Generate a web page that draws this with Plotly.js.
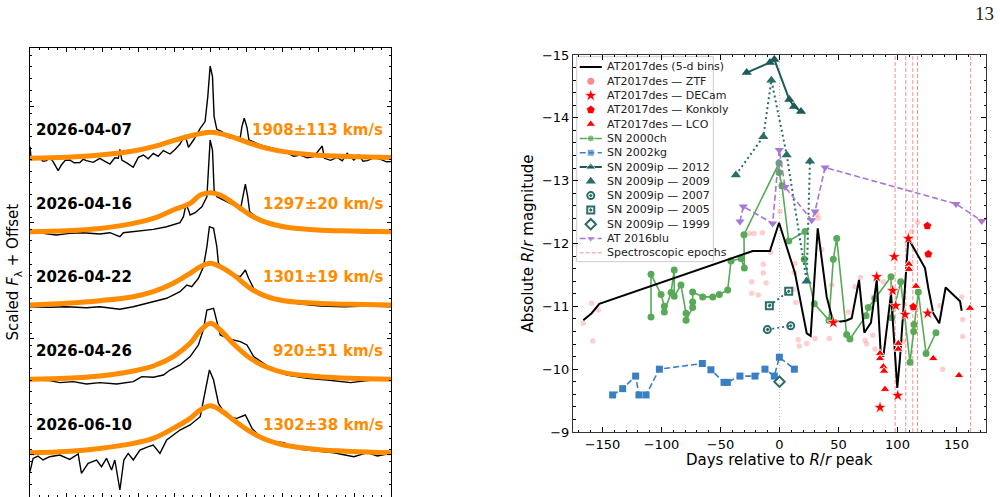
<!DOCTYPE html>
<html>
<head>
<meta charset="utf-8">
<script src="https://cdn.plot.ly/plotly-3.0.1.min.js"></script>
<style>
  html, body { margin: 0; padding: 0; background: #ffffff; }
  #chart { width: 1000px; height: 497px; }
</style>
</head>
<body>
<div id="chart"></div>
<script>
// ---------- Left panel: H-alpha spectra (velocity in 10^3 km/s, flux in scaled units) ----------
const specDates  = ['2026-04-07', '2026-04-16', '2026-04-22', '2026-04-26', '2026-06-10'];
const fwhmLabels = ['1908±113 km/s', '1297±20 km/s', '1301±19 km/s', '920±51 km/s', '1302±38 km/s'];
const specOffsets = [33.77, 26.43, 19.1, 11.67, 4.33];

const vel0407  = [-10.0, -9.93, -9.70, -9.46, -9.28, -9.09, -8.90, -8.72, -8.44, -8.26, -8.05, -7.80, -7.55, -7.24, -7.05, -6.87, -6.50, -6.13, -5.85, -5.57, -5.30, -5.11, -5.02, -4.91, -4.60, -4.28, -4.00, -3.72, -3.45, -3.17, -2.90, -2.61, -2.24, -1.95, -1.69, -1.41, -1.22, -0.94, -0.57, -0.30, -0.15, -0.02, 0.11, 0.20, 0.35, 0.63, 1.09, 1.65, 1.74, 1.87, 2.02, 2.13, 2.76, 3.10, 3.50, 3.85, 4.24, 4.60, 4.98, 5.35, 5.72, 6.19, 6.31, 6.65, 7.02, 7.30, 7.57, 7.94, 8.22, 8.45, 8.69, 9.05, 9.43, 9.75, 10.0];
const flux0407 = [1.17, -0.17, 0.1, 0, -0.3, -0.23, 0.05, -0.33, -1.23, -0.67, -0.2, -0.17, -0.45, -0.43, -0.1, -0.23, -0.4, 0, -0.3, -0.57, 0.05, 0, 0.9, -0.17, -0.5, -0.9, 0.1, 0.33, -0.05, 0.5, 0.2, 0.77, 0.43, 0.9, 1.43, 2.33, 1.1, 1.83, 3.0, 3.67, 6.17, 9.23, 8.17, 4.17, 2.9, 2.67, 2.0, 2.1, 3.17, 4.0, 3.1, 1.83, 1.33, 1.2, 1.0, 0.7, 0.57, 0.2, 0.33, 0.05, 0.17, 1.23, 0, -0.2, 0.1, -0.25, 0.5, -0.17, 0.33, -0.3, -0.23, 0.05, -0.1, -0.35, -0.33];

const vel0416  = [-10.0, -9.28, -8.54, -7.80, -7.06, -6.13, -5.57, -5.02, -4.83, -3.91, -3.17, -2.43, -1.69, -1.50, -1.35, -1.22, -1.13, -0.85, -0.48, -0.20, -0.11, -0.02, 0.11, 0.20, 0.35, 0.72, 1.28, 1.65, 1.80, 1.93, 2.06, 2.17, 2.76, 3.69, 4.61, 5.91, 7.39, 8.69, 10.0];
const flux0416 = [-0.1, -0.17, -0.33, -0.17, -0.1, -0.23, -0.1, -0.5, -0.1, 0.1, 0.23, 0.5, 0.9, 1.5, 2.77, 2.17, 1.67, 1.9, 2.5, 3.5, 6.83, 9.17, 8.17, 4.17, 3.5, 3.17, 2.67, 2.17, 3.5, 4.77, 3.5, 2.0, 1.17, 0.57, 0.23, 0.1, 0, -0.1, -0.03];

const vel0422  = [-10.0, -8.91, -8.0, -6.87, -6.13, -5.02, -4.28, -3.35, -2.43, -1.69, -1.31, -1.04, -0.67, -0.39, -0.20, -0.06, 0.17, 0.35, 0.44, 0.63, 1.28, 1.65, 1.93, 2.11, 2.39, 2.94, 3.87, 4.98, 6.09, 7.39, 8.69, 10.0];
const flux0422 = [-0.17, -0.23, -0.17, -0.27, -0.17, -0.43, -0.17, 0.23, 0.67, 1.33, 2.0, 1.83, 2.67, 3.83, 5.83, 7.83, 7.67, 5.83, 4.17, 3.83, 3.0, 2.83, 3.5, 2.67, 1.67, 1.0, 0.43, 0.1, -0.1, -0.17, -0.1, -0.17];

const vel0426  = [-10.0, -8.91, -8.35, -7.61, -6.87, -6.13, -5.20, -4.28, -3.81, -3.17, -2.61, -2.24, -1.69, -1.13, -0.67, -0.39, -0.20, 0.17, 0.31, 0.54, 1.09, 1.65, 2.02, 2.39, 2.94, 3.50, 4.24, 5.35, 6.46, 7.76, 8.69, 10.0];
const flux0426 = [-0.07, -0.13, -0.33, -0.23, -0.47, -0.33, -0.47, -0.23, 0.27, 0.2, 0.43, 0.93, 1.43, 2.27, 3.43, 5.0, 6.93, 7.1, 6.1, 4.43, 4.0, 3.77, 3.43, 2.27, 1.6, 0.93, 0.43, 0.1, -0.07, -0.33, -0.13, 0];

const vel0610  = [-10.0, -9.83, -9.56, -9.28, -8.91, -8.35, -7.80, -7.33, -7.15, -6.78, -6.31, -6.04, -5.76, -5.48, -5.30, -5.02, -4.80, -4.56, -4.28, -3.91, -3.44, -3.17, -2.80, -2.43, -1.69, -1.13, -0.57, -0.30, -0.06, 0.17, 0.44, 0.91, 1.46, 1.93, 2.30, 2.94, 4.06, 4.98, 6.09, 6.83, 7.94, 8.69, 9.24, 10.0];
const flux0610 = [-1.9, -0.57, -0.33, -0.73, -0.4, -0.23, -0.67, -0.13, -2.07, -1.07, -0.73, -1.4, -0.57, -1.73, -0.73, -3.73, -0.73, -0.07, -0.73, 0.27, 0.6, 0.77, -0.07, 1.27, 2.27, 2.77, 3.6, 6.27, 8.27, 7.27, 4.93, 3.6, 3.43, 3.77, 2.43, 1.27, 1.0, 0.33, 0.1, 0, -0.4, 0, -0.33, -0.07];

// Lorentzian profile fits, sampled on a shared velocity grid
const fitVel  = [-10, -7.98, -6.13, -4.28, -3.17, -2.06, -1.13, -0.57, 0, 0.54, 1.28, 2.20, 3.13, 4.06, 5.91, 7.76, 10];
const fit0407 = [0, 0.1, 0.33, 0.73, 1.17, 1.77, 2.23, 2.47, 2.6, 2.47, 2.1, 1.5, 1.0, 0.67, 0.3, 0.17, 0.07];
const fit0416 = [0, 0.1, 0.33, 0.83, 1.33, 2.17, 2.83, 3.67, 3.9, 3.67, 2.83, 1.67, 0.9, 0.5, 0.17, 0.07, 0];
const fit0422 = [0, 0.17, 0.43, 0.83, 1.33, 2.17, 3.17, 3.83, 4.17, 3.83, 3.0, 1.67, 0.83, 0.43, 0.17, 0.07, 0];
const fit0426 = [0, 0.1, 0.33, 0.83, 1.33, 2.27, 3.6, 4.87, 5.6, 4.93, 3.53, 2.1, 1.2, 0.67, 0.27, 0.1, 0];
const fit0610 = [0, 0.13, 0.43, 0.93, 1.43, 2.43, 3.43, 4.27, 4.7, 4.27, 3.27, 2.1, 1.27, 0.77, 0.33, 0.13, 0];

// ---------- Right panel: light curves (days from R/r peak, absolute magnitude) ----------
const peakDate = '2025-12-30';

const binDays = [-166.3, -159.2, -152.7, -22.7, -8.1, -0.4, 13.1, 23.1, 26.4, 32.4, 40.0, 45.1, 51.9, 56.4, 61.2, 67.4, 71.9, 77.5, 82.4, 85.8, 88.0, 94.5, 99.8, 102.1, 109.2, 117.6, 123.3, 126.1, 130.3, 135.4, 140.8, 153.0, 154.4];
const binMag  = [-10.78, -10.89, -11.04, -11.88, -11.88, -12.33, -11.53, -10.57, -10.53, -12.24, -11.15, -10.78, -10.76, -10.77, -10.81, -11.42, -10.58, -10.74, -11.42, -10.25, -10.20, -11.20, -9.70, -10.17, -12.08, -11.79, -11.61, -11.29, -10.89, -10.73, -11.30, -11.08, -10.93];

const ztfDays = [-166.3, -159.2, -153.6, -158.3, -25.6, -21.6, -14.4, -23.6, -23.6, -13.7, -7.5, -13.7, 0.4, -11.4, -18.0, 13.1, 12.5, 14.0, 15.9, 16.8, 23.1, 30.1, 31.8, 32.9, 35.8, 44.2, 42.2, 58.3, 64.0, 68.6, 72.5, 73.9, 79.0, 80.9, 79.5, 88.0, 104.9, 112.0, 117.1, 136.0, 138.3, 154.4, 155.3, 155.3, 11.7];
const ztfMag  = [-10.73, -11.05, -10.94, -10.45, -12.16, -12.16, -12.17, -11.39, -11.21, -11.67, -11.86, -11.53, -12.51, -11.37, -11.18, -11.68, -11.54, -11.06, -10.47, -10.37, -10.41, -10.49, -12.46, -12.40, -11.90, -11.34, -10.49, -10.91, -11.31, -11.46, -10.46, -10.40, -10.54, -10.32, -11.15, -11.39, -10.44, -12.19, -12.34, -11.01, -10.00, -11.15, -10.79, -10.52, -11.27];

const decamDays = [45.6, 82.4, 85.2, 95.9, 97.3, 98.5, 100.2, 106.4, 109.2, 125.6];
const decamMag  = [-10.74, -11.47, -9.39, -11.25, -11.79, -11.01, -9.58, -10.87, -12.08, -10.89];

const konkolyDays = [113.4, 125.3, 126.1];
const konkolyMag  = [-10.99, -12.28, -11.83];

const lcoDays = [85.2, 85.2, 88.0, 88.6, 89.4, 100.7, 100.7, 109.7, 109.7, 115.7, 130.3, 152.1, 161.4];
const lcoMag  = [-10.25, -10.17, -10.04, -9.97, -9.68, -10.41, -10.32, -11.67, -11.59, -11.32, -10.17, -9.90, -10.97];

const sn2000chDays = [-108.9, -108.9, -100.4, -97.6, -97.6, -91.9, -89.2, -89.2, -83.5, -79.2, -79.2, -73.6, -73.6, -73.6, -65.1, -56.6, -51.0, -43.9, -41.1, -32.6, -29.8, -30.1, -0.4, -0.4, 2.1, 7.8, 21.6, 21.0, 29.5, 41.9, 45.6, 48.5, 56.9, 59.7, 73.3, 75.3, 80.9, 94.5, 95.1, 102.7, 110.6, 113.7, 114.0, 117.6, 124.2, 132.6];
const sn2000chMag  = [-10.83, -11.51, -11.19, -11.00, -10.91, -11.22, -11.58, -11.16, -11.34, -10.89, -10.78, -10.98, -11.07, -11.23, -11.15, -11.15, -11.19, -11.26, -11.72, -11.76, -11.61, -12.14, -13.28, -13.13, -12.92, -12.04, -12.19, -11.75, -11.04, -10.78, -11.75, -12.08, -10.55, -10.48, -10.85, -10.98, -11.12, -11.47, -10.82, -11.39, -10.11, -10.60, -10.71, -11.23, -10.25, -10.58];

const sn2002kgDays = [-141.4, -132.9, -121.9, -119.1, -113.1, -101.8, -65.4, -58.1, -47.0, -44.2, -33.5, -20.8, -12.3, -4.4, -0.1, 12.6];
const sn2002kgMag  = [-9.59, -9.69, -9.89, -9.59, -9.59, -10.00, -10.09, -9.99, -9.79, -9.79, -9.89, -9.89, -10.00, -9.89, -10.19, -10.00];

const ip2012Days = [-27.8, -8.1, -4.4, 8.3, 12.3, 18.2];
const ip2012Mag  = [-14.72, -14.88, -14.93, -14.29, -14.18, -14.10];
const ip2009Days = [-37.0, -13.7, -6.9, 6.1, 23.0, 25.8];
const ip2009Mag  = [-13.09, -13.70, -14.60, -13.41, -11.40, -13.31];
const ip2007Days = [-10.3, 9.5];
const ip2007Mag  = [-10.63, -10.69];
const ip2005Days = [-8.6, 7.8];
const ip2005Mag  = [-11.01, -11.24];
const ip1999Days = [0];
const ip1999Mag  = [-9.80];

const blu2016Days = [-33.5, -30.7, -5.8, -0.2, 4.7, 27.3, 30.1, 38.6, 149.6, 171.4];
const blu2016Mag  = [-12.35, -12.59, -12.32, -13.49, -12.90, -12.37, -12.51, -13.21, -12.63, -12.36];

const magTicks = [-15, -14, -13, -12, -11, -10, -9];
const dayTicks = [-150, -100, -50, 0, 50, 100, 150];

// ---------- helpers ----------
const minus = v => String(v).replace('-', '\u2212');
const DAY_MS = 86400000;
const daysFromPeak = d => Math.round((Date.parse(d) - Date.parse(peakDate)) / DAY_MS);
const epochDays = specDates.map(daysFromPeak);

const ORANGE = '#ff8c00';
const TEAL_DARK = '#1b5c58';
const TEAL = '#2a6d68';

// ---------- spectra traces ----------
const specVel  = [vel0407, vel0416, vel0422, vel0426, vel0610];
const specFlux = [flux0407, flux0416, flux0422, flux0426, flux0610];
const fitFlux  = [fit0407, fit0416, fit0422, fit0426, fit0610];

const traces = [];
specDates.forEach((d, i) => {
  traces.push({
    x: specVel[i], y: specFlux[i].map(f => f + specOffsets[i]),
    xaxis: 'x', yaxis: 'y', mode: 'lines', showlegend: false, hoverinfo: 'skip',
    line: { color: '#000000', width: 1.4 }
  });
  traces.push({
    x: fitVel, y: fitFlux[i].map(f => f + specOffsets[i]),
    xaxis: 'x', yaxis: 'y', mode: 'lines', showlegend: false, hoverinfo: 'skip',
    line: { color: ORANGE, width: 5, shape: 'spline', smoothing: 1 }
  });
});

// ---------- light-curve series (style shared with the legend key) ----------
const series = [
  { label: 'AT2017des — ZTF', x: ztfDays, y: ztfMag, mode: 'markers', key: 'markers',
    marker: { symbol: 'circle', size: 5.5, color: 'rgba(255,110,110,0.33)' },
    keyMarker: { color: 'rgba(255,110,110,0.8)', size: 7 } },
  { label: 'SN 2002kg', x: sn2002kgDays, y: sn2002kgMag, mode: 'lines+markers', key: 'lines+markers',
    line: { color: '#3a7fc2', width: 1.6, dash: '6px,3px' },
    marker: { symbol: 'square', size: 7, color: '#3a7fc2' } },
  { label: 'SN 2000ch', x: sn2000chDays, y: sn2000chMag, mode: 'lines+markers', key: 'lines+markers',
    line: { color: '#58aa58', width: 1.6 },
    marker: { symbol: 'circle', size: 7, color: '#58aa58' } },
  { label: 'SN 2009ip — 2009', x: ip2009Days, y: ip2009Mag, mode: 'lines+markers', key: 'markers',
    line: { color: TEAL, width: 2, dash: '2px,3px' },
    marker: { symbol: 'triangle-up', size: 9, color: TEAL } },
  { label: 'SN 2009ip — 2007', x: ip2007Days, y: ip2007Mag, mode: 'lines+markers', key: 'markers',
    line: { color: TEAL, width: 1.8, dash: '2px,3px' },
    marker: { symbol: 'circle-open-dot', size: 7, color: TEAL, line: { width: 2, color: TEAL } } },
  { label: 'SN 2009ip — 2005', x: ip2005Days, y: ip2005Mag, mode: 'lines+markers', key: 'markers',
    line: { color: TEAL, width: 1.8, dash: '2px,3px' },
    marker: { symbol: 'square-open-dot', size: 7, color: TEAL, line: { width: 2, color: TEAL } } },
  { label: 'SN 2009ip — 1999', x: ip1999Days, y: ip1999Mag, mode: 'markers', key: 'markers',
    marker: { symbol: 'diamond-open', size: 8, color: TEAL, line: { width: 2, color: TEAL } } },
  { label: 'SN 2009ip — 2012', x: ip2012Days, y: ip2012Mag, mode: 'lines+markers', key: 'lines+markers',
    line: { color: TEAL_DARK, width: 2 },
    marker: { symbol: 'triangle-up', size: 9, color: TEAL_DARK } },
  { label: 'AT 2016blu', x: blu2016Days, y: blu2016Mag, mode: 'lines+markers', key: 'lines+markers',
    line: { color: '#a677d4', width: 1.6, dash: '6px,3px' },
    marker: { symbol: 'triangle-down', size: 8, color: '#a677d4' } },
  { label: 'AT2017des (5-d bins)', x: binDays, y: binMag, mode: 'lines', key: 'lines',
    line: { color: '#000000', width: 2 } },
  { label: 'AT2017des — DECam', x: decamDays, y: decamMag, mode: 'markers', key: 'markers',
    marker: { symbol: 'star', size: 9.5, color: '#ff0000', line: { color: '#ffffff', width: 0.6 } } },
  { label: 'AT2017des — Konkoly', x: konkolyDays, y: konkolyMag, mode: 'markers', key: 'markers',
    marker: { symbol: 'pentagon', size: 9, color: '#ff0000', line: { color: '#ffffff', width: 0.6 } } },
  { label: 'AT2017des — LCO', x: lcoDays, y: lcoMag, mode: 'markers', key: 'markers',
    marker: { symbol: 'triangle-up', size: 8.5, color: '#ff0000', line: { color: '#ffffff', width: 0.9 } } }
];

series.forEach(s => {
  const t = { x: s.x, y: s.y, xaxis: 'x2', yaxis: 'y2', mode: s.mode, name: s.label,
              showlegend: false, hoverinfo: 'skip', cliponaxis: true };
  if (s.line) t.line = s.line;
  if (s.marker) t.marker = s.marker;
  traces.push(t);
});

// ---------- legend key (drawn on its own small subplot) ----------
const epochStyle = { color: 'rgba(240,110,110,0.75)', width: 1, dash: '4px,2px' };
const keyOrder = ['AT2017des (5-d bins)', 'AT2017des — ZTF', 'AT2017des — DECam', 'AT2017des — Konkoly',
  'AT2017des — LCO', 'SN 2000ch', 'SN 2002kg', 'SN 2009ip — 2012', 'SN 2009ip — 2009',
  'SN 2009ip — 2007', 'SN 2009ip — 2005', 'SN 2009ip — 1999', 'AT 2016blu', 'Spectroscopic epochs'];
const keyLineX = [3, 14, 25], keyMarkX = 14, keyTextX = 28;
const annotations = [];

keyOrder.forEach((label, row) => {
  const s = series.find(q => q.label === label);
  const t = { xaxis: 'x3', yaxis: 'y3', showlegend: false, hoverinfo: 'skip' };
  if (s && s.key === 'lines') {
    Object.assign(t, { x: keyLineX, y: [row, row, row], mode: 'lines', line: s.line });
  } else if (s && s.key === 'lines+markers') {
    Object.assign(t, { x: keyLineX, y: [row, row, row], mode: 'lines+markers', line: s.line,
      marker: Object.assign({}, s.marker, { size: [0, s.marker.size, 0] }) });
  } else if (s) {
    Object.assign(t, { x: [keyMarkX], y: [row], mode: 'markers',
      marker: Object.assign({}, s.marker, s.keyMarker || {}) });
  } else {
    Object.assign(t, { x: [keyLineX[0], keyLineX[2]], y: [row, row], mode: 'lines', line: epochStyle });
  }
  traces.push(t);
  annotations.push({ xref: 'x3', yref: 'y3', x: keyTextX, y: row, text: label, showarrow: false,
    xanchor: 'left', yanchor: 'middle', font: { size: 11, color: '#222222' } });
});

// ---------- spectra labels ----------
specDates.forEach((d, i) => {
  annotations.push({ xref: 'x', yref: 'y', x: -9.78, y: specOffsets[i] + 2.8, text: '<b>' + d + '</b>',
    showarrow: false, xanchor: 'left', yanchor: 'middle', font: { size: 15, color: '#000000' } });
  annotations.push({ xref: 'x', yref: 'y', x: 9.68, y: specOffsets[i] + 2.8, text: '<b>' + fwhmLabels[i] + '</b>',
    showarrow: false, xanchor: 'right', yanchor: 'middle', font: { size: 15, color: ORANGE } });
});

// axis titles and page number
annotations.push(
  { xref: 'paper', yref: 'paper', x: 0.014, y: 0.4517, xanchor: 'center', yanchor: 'middle',
    text: 'Scaled <i>F</i><sub>λ</sub> + Offset', textangle: -90, showarrow: false,
    font: { size: 15, color: '#000' } },
  { xref: 'paper', yref: 'paper', x: 0.528, y: 0.5101, xanchor: 'center', yanchor: 'middle',
    text: 'Absolute <i>R</i>/<i>r</i> magnitude', textangle: -90, showarrow: false,
    font: { size: 15, color: '#000' } },
  { xref: 'paper', yref: 'paper', x: 0.7795, y: 0.0744, xanchor: 'center', yanchor: 'middle',
    text: 'Days relative to <i>R</i>/<i>r</i> peak', showarrow: false, font: { size: 15, color: '#000' } },
  { xref: 'paper', yref: 'paper', x: 0.984, y: 0.972, xanchor: 'center', yanchor: 'middle',
    text: '13', showarrow: false,
    font: { family: 'Liberation Serif, DejaVu Serif, serif', size: 19, color: '#222' } }
);

// ---------- shapes: epochs, peak marker, legend frame ----------
const shapes = [];
shapes.push({ type: 'line', xref: 'x2', yref: 'y2 domain', x0: 0, x1: 0, y0: 0, y1: 1, layer: 'below',
  line: { color: '#c8c8c8', width: 1, dash: '1px,2px' } });
epochDays.forEach(e => shapes.push({ type: 'line', xref: 'x2', yref: 'y2 domain', x0: e, x1: e, y0: 0, y1: 1,
  layer: 'below', line: epochStyle }));
shapes.push({ type: 'rect', xref: 'paper', yref: 'paper', x0: 0.5767, x1: 0.7133, y0: 0.4735, y1: 0.8860,
  layer: 'below', fillcolor: 'rgba(255,255,255,0.85)', line: { color: '#cccccc', width: 1 } });

const frame = { showline: true, linecolor: '#000000', linewidth: 1, mirror: 'ticks', showgrid: false,
  zeroline: false, ticks: 'inside', tickcolor: '#000000' };

const layout = {
  width: 1000, height: 497,
  margin: { l: 0, r: 0, t: 0, b: 0 },
  paper_bgcolor: '#ffffff', plot_bgcolor: 'rgba(0,0,0,0)',
  font: { family: 'DejaVu Sans, sans-serif', color: '#000000' },
  showlegend: false,
  xaxis: Object.assign({}, frame, { domain: [0.030, 0.391], range: [-10, 10], anchor: 'y',
    showticklabels: false, tick0: 0, dtick: 2, ticklen: 4,
    minor: { ticks: 'inside', dtick: 0.5, ticklen: 2, tickcolor: '#000' } }),
  yaxis: Object.assign({}, frame, { domain: [0.0, 0.9034], range: [-0.1, 44.8], anchor: 'x',
    showticklabels: false, tick0: 4.2, dtick: 11.6, ticklen: 4,
    minor: { ticks: 'inside', dtick: 1.16, ticklen: 2, tickcolor: '#000' } }),
  xaxis2: Object.assign({}, frame, { domain: [0.573, 0.986], range: [-175, 175], anchor: 'y2',
    linecolor: '#333333', tickmode: 'array', tickvals: dayTicks, ticktext: dayTicks.map(minus),
    ticklen: 5, tickfont: { size: 13 },
    minor: { ticks: 'inside', dtick: 10, tick0: 0, ticklen: 2.5, tickcolor: '#000' } }),
  yaxis2: Object.assign({}, frame, { domain: [0.13078, 0.88934], range: [-9, -15], anchor: 'x2',
    linecolor: '#333333', tickmode: 'array', tickvals: magTicks, ticktext: magTicks.map(minus),
    ticklen: 5, tickfont: { size: 13 },
    minor: { ticks: 'inside', dtick: 0.2, tick0: -15, ticklen: 2.5, tickcolor: '#000' } }),
  xaxis3: { domain: [0.5767, 0.7133], range: [0, 136], visible: false, fixedrange: true, anchor: 'y3' },
  yaxis3: { domain: [0.4735, 0.8860], range: [13.62, -0.72], visible: false, fixedrange: true, anchor: 'x3' },
  shapes: shapes,
  annotations: annotations
};

Plotly.newPlot('chart', traces, layout, { displayModeBar: false, staticPlot: true });
</script>
</body>
</html>
